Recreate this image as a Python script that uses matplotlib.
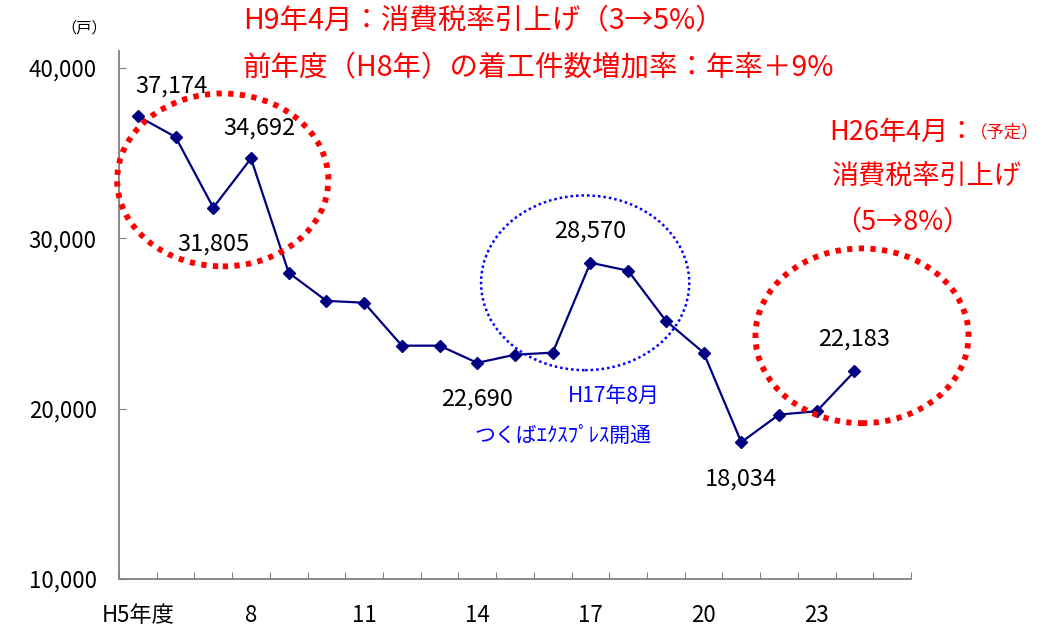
import matplotlib
matplotlib.use("Agg")
import matplotlib.pyplot as plt
from matplotlib.patches import Ellipse
from matplotlib.ticker import FuncFormatter

plt.rcParams['font.family'] = ['Noto Sans CJK JP', 'DejaVu Sans']

# ---- data ----
years = ["H5", "H6", "H7", "H8", "H9", "H10", "H11", "H12", "H13", "H14",
         "H15", "H16", "H17", "H18", "H19", "H20", "H21", "H22", "H23", "H24"]
starts = [37174, 35950, 31805, 34692, 27980, 26330, 26220, 23700, 23700, 22690,
          23170, 23290, 28570, 28100, 25160, 23290, 18034, 19650, 19850, 22183]
n_categories = 21
xtick_labels = ["H5年度", "8", "11", "14", "17", "20", "23"]
xtick_index = [0, 3, 6, 9, 12, 15, 18]
yticks = [10000, 20000, 30000, 40000]

# labelled points: (index, dx px, dy px)
labelled = [(0, 34, 30), (3, 8, 30), (2, 0, -36), (12, 0, 32),
            (9, 0, -36), (16, 0, -37), (19, 0, 32)]

fig = plt.figure(figsize=(10.41, 6.25), dpi=100)
ax = fig.add_axes([119/1041, 1-579/625, (911-119)/1041, (579-51)/625])

x = list(range(len(starts)))
ax.plot(x, starts, color="#000080", lw=1.6, marker="D", ms=6.5,
        markeredgecolor="#000080", markerfacecolor="#000080", zorder=3)

ax.set_xlim(-0.5, n_categories - 0.5)
ax.set_ylim(10000, 41000)

for s in ["top", "right"]:
    ax.spines[s].set_visible(False)
for s in ["left", "bottom"]:
    ax.spines[s].set_color("#808080")
    ax.spines[s].set_linewidth(1.3)

ax.set_yticks(yticks)
ax.yaxis.set_major_formatter(FuncFormatter(lambda v, p: f"{int(v):,}"))
ax.tick_params(axis="y", direction="in", length=5, color="#808080",
               labelsize=16, pad=16)

bounds = [i - 0.5 for i in range(n_categories + 1)]
ax.set_xticks(bounds)
ax.set_xticklabels([""] * len(bounds))
ax.tick_params(axis="x", which="major", direction="in", length=5, color="#808080")
ax.set_xticks(xtick_index, minor=True)
ax.set_xticklabels(xtick_labels, minor=True)
ax.tick_params(axis="x", which="minor", length=0, labelsize=16, pad=18)

for idx, dx, dy in labelled:
    ax.annotate(f"{starts[idx]:,}", (idx, starts[idx]), xytext=(dx, dy),
                textcoords="offset pixels", ha="center", va="center",
                fontsize=17, color="black")

# ellipses
red_kw = dict(facecolor="none", edgecolor="#ff0000", lw=4.2,
              linestyle=(0, (0.9, 1.1)), clip_on=False, zorder=4)
ax.add_patch(Ellipse((2.25, 33430), 5.6, 10150, **red_kw))
ax.add_patch(Ellipse((19.2, 24280), 5.65, 10260, **red_kw))
ax.add_patch(Ellipse((11.86, 27390), 5.52, 10260, facecolor="none",
                     edgecolor="#0000ff", lw=1.8, linestyle=(0, (1, 1.2)),
                     clip_on=False, zorder=4))

# texts
fig.text(84/1041, 1-28/625, "（戸）", fontsize=11, ha="center", va="center")
red = "#ff0000"
fig.text(243/1041, 1-21/625, "H9年4月：消費税率引上げ（3→5%）",
         fontsize=20.5, color=red, ha="left", va="center")
fig.text(243/1041, 1-68/625, "前年度（H8年）の着工件数増加率：年率＋9%",
         fontsize=20.5, color=red, ha="left", va="center")
fig.text(829/1041, 1-132/625, "H26年4月：", fontsize=19.5, color=red,
         ha="left", va="center")
fig.text(1039/1041, 1-132/625, "（予定）", fontsize=12.5, color=red,
         ha="right", va="center")
fig.text(927/1041, 1-177/625, "消費税率引上げ", fontsize=19.5, color=red,
         ha="center", va="center")
fig.text(902/1041, 1-222/625, "（5→8%）", fontsize=19.5, color=red,
         ha="center", va="center")

blue = "#0000ff"
fig.text(614/1041, 1-396/625, "H17年8月", fontsize=15, color=blue,
         ha="center", va="center")
fig.text(563/1041, 1-436/625, "つくばｴｸｽﾌﾟﾚｽ開通", fontsize=15, color=blue,
         ha="center", va="center")

fig.savefig("out.png", dpi=100)
